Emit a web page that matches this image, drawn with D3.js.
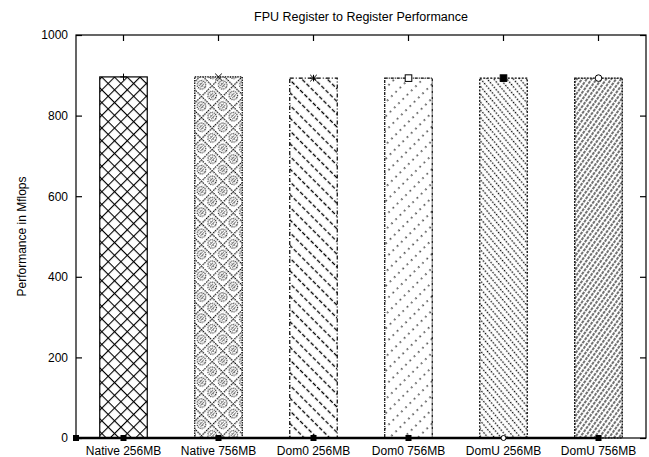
<!DOCTYPE html>
<html>
<head>
<meta charset="utf-8">
<script src="https://cdn.jsdelivr.net/npm/d3@7.9.0/dist/d3.min.js"></script>
<style>
  body { margin: 0; background: #fff; }
  text { font-family: "Liberation Sans", Arial, sans-serif; fill: #000; }
</style>
</head>
<body>
<svg id="chart" width="649" height="457"></svg>
<script>
// Data
const categories = ['Native 256MB', 'Native 756MB', 'Dom0 256MB', 'Dom0 756MB', 'DomU 256MB', 'DomU 756MB'];
const values     = [896, 896, 893, 893, 893, 893];
const yTicks     = [0, 200, 400, 600, 800, 1000];
const markers    = ['plus', 'cross', 'star', 'square', 'fsquare', 'circle'];

const W = 649, H = 457;
const margin = { top: 35, right: 3, bottom: 19, left: 76 };

const svg = d3.select('#chart');
const defs = svg.append('defs');

// Hatch patterns, one per bar
function linePattern(id, size, angle, sw, dash) {
  const p = defs.append('pattern')
    .attr('id', id)
    .attr('patternUnits', 'userSpaceOnUse')
    .attr('width', size).attr('height', 12)
    .attr('patternTransform', `rotate(${angle})`);
  p.append('line')
    .attr('x1', size / 2).attr('x2', size / 2)
    .attr('y1', 0).attr('y2', 12)
    .attr('stroke', '#000').attr('stroke-width', sw)
    .attr('stroke-dasharray', dash);
}

// 1: solid cross-hatch
const p1 = defs.append('pattern').attr('id', 'pat0')
  .attr('patternUnits', 'userSpaceOnUse').attr('width', 9).attr('height', 9)
  .attr('patternTransform', 'rotate(45)');
p1.append('line').attr('x1', 0).attr('x2', 9).attr('y1', 0).attr('y2', 0)
  .attr('stroke', '#000').attr('stroke-width', 2.2);
p1.append('line').attr('x1', 0).attr('x2', 0).attr('y1', 0).attr('y2', 9)
  .attr('stroke', '#000').attr('stroke-width', 2.2);

// 2: dotted cross-hatch with small dotted rings
const p2 = defs.append('pattern').attr('id', 'pat1')
  .attr('patternUnits', 'userSpaceOnUse').attr('width', 15).attr('height', 15)
  .attr('patternTransform', 'rotate(45)');
p2.append('line').attr('x1', 0).attr('x2', 15).attr('y1', 0).attr('y2', 0)
  .attr('stroke', '#000').attr('stroke-width', 2.4).attr('stroke-dasharray', '1.5,1');
p2.append('line').attr('x1', 0).attr('x2', 0).attr('y1', 0).attr('y2', 15)
  .attr('stroke', '#000').attr('stroke-width', 2.4).attr('stroke-dasharray', '1.5,1');
p2.append('circle').attr('cx', 7.5).attr('cy', 7.5).attr('r', 4.2)
  .attr('fill', 'none').attr('stroke', '#000').attr('stroke-width', 1.2)
  .attr('stroke-dasharray', '1,1');
p2.append('rect').attr('x', 6).attr('y', 6).attr('width', 3).attr('height', 3)
  .attr('fill', 'none').attr('stroke', '#000').attr('stroke-width', 1)
  .attr('stroke-dasharray', '1,1');

linePattern('pat2', 9, -45, 1.3, '4,2');
linePattern('pat3', 10, 45, 1.3, '1.5,4.5');
linePattern('pat4', 5, -40, 1.3, '1.5,1.5');
linePattern('pat5', 4, 35, 1.1, '3,1');

const borderDash = [null, '1.5,1', '4,2,1,2', '3,1,1,1', '2,1.5', '2,1'];

const x = d3.scaleBand()
  .domain(categories)
  .range([margin.left, W - margin.right])
  .paddingInner(0.5)
  .paddingOuter(0.25);

const y = d3.scaleLinear()
  .domain([0, 1000])
  .range([H - margin.bottom, margin.top]);

const g = svg.append('g');

// Bars
categories.forEach((c, i) => {
  g.append('rect')
    .attr('x', x(c))
    .attr('y', y(values[i]))
    .attr('width', x.bandwidth())
    .attr('height', y(0) - y(values[i]))
    .attr('fill', `url(#pat${i})`)
    .attr('stroke', '#000')
    .attr('stroke-width', 1.2)
    .attr('stroke-dasharray', borderDash[i]);
});

// Frame
g.append('rect')
  .attr('x', margin.left).attr('y', margin.top)
  .attr('width', W - margin.right - margin.left)
  .attr('height', y(0) - margin.top)
  .attr('fill', 'none').attr('stroke', '#000').attr('stroke-width', 1.2);

// Y ticks, inward on both sides
const yAxisL = d3.axisLeft(y).tickValues(yTicks).tickFormat(d3.format('d'))
  .tickSizeInner(-6).tickSizeOuter(0).tickPadding(8);
const gl = svg.append('g').attr('transform', `translate(${margin.left},0)`).call(yAxisL);
gl.select('.domain').remove();
gl.selectAll('text').style('font-size', '12px');

const yAxisR = d3.axisRight(y).tickValues(yTicks).tickSizeInner(-6).tickSizeOuter(0).tickFormat('');
const gr = svg.append('g').attr('transform', `translate(${W - margin.right},0)`).call(yAxisR);
gr.select('.domain').remove();

// X ticks on top, labels below
const xTop = d3.axisTop(x).tickSizeInner(-6).tickSizeOuter(0).tickFormat('');
const gt = svg.append('g').attr('transform', `translate(0,${margin.top})`).call(xTop);
gt.select('.domain').remove();

const xBot = d3.axisBottom(x).tickSize(0).tickPadding(8);
const gb = svg.append('g').attr('transform', `translate(0,${y(0)})`).call(xBot);
gb.select('.domain').remove();
gb.selectAll('text').style('font-size', '12px');

svg.selectAll('.tick line').attr('stroke', '#000').attr('stroke-width', 1.2);

// Zero line with points along the bottom
const zeroXs = [margin.left].concat(categories.map(c => x(c) + x.bandwidth() / 2));
svg.append('line')
  .attr('x1', zeroXs[0]).attr('x2', zeroXs[zeroXs.length - 1])
  .attr('y1', y(0)).attr('y2', y(0))
  .attr('stroke', '#000').attr('stroke-width', 2.4);
zeroXs.forEach((px, i) => {
  if (i === 5) {
    svg.append('circle').attr('cx', px).attr('cy', y(0)).attr('r', 2.5)
      .attr('fill', '#fff').attr('stroke', '#000').attr('stroke-width', 1);
  } else {
    svg.append('rect').attr('x', px - 3).attr('y', y(0) - 3)
      .attr('width', 6).attr('height', 6).attr('fill', '#000');
  }
});

// Point markers at bar tops
function marker(type, cx, cy) {
  const s = 3.3;
  const m = svg.append('g').attr('stroke', '#000').attr('stroke-width', 1).attr('fill', 'none');
  const plus  = () => m.append('path').attr('d', `M${cx - s},${cy}H${cx + s}M${cx},${cy - s}V${cy + s}`);
  const cross = () => m.append('path').attr('d', `M${cx - s},${cy - s}L${cx + s},${cy + s}M${cx - s},${cy + s}L${cx + s},${cy - s}`);
  if (type === 'plus') plus();
  if (type === 'cross') cross();
  if (type === 'star') { plus(); cross(); }
  if (type === 'square') m.append('rect').attr('x', cx - s).attr('y', cy - s).attr('width', 2 * s).attr('height', 2 * s).attr('fill', '#fff');
  if (type === 'fsquare') m.append('rect').attr('x', cx - s).attr('y', cy - s).attr('width', 2 * s).attr('height', 2 * s).attr('fill', '#000');
  if (type === 'circle') m.append('circle').attr('cx', cx).attr('cy', cy).attr('r', s).attr('fill', '#fff');
}
categories.forEach((c, i) => marker(markers[i], x(c) + x.bandwidth() / 2, y(values[i])));

// Title and y label
svg.append('text')
  .attr('x', 361).attr('y', 21)
  .attr('text-anchor', 'middle')
  .style('font-size', '12.5px')
  .text('FPU Register to Register Performance');

svg.append('text')
  .attr('transform', `translate(26,${(margin.top + y(0)) / 2}) rotate(-90)`)
  .attr('text-anchor', 'middle')
  .style('font-size', '12px')
  .text('Performance in Mflops');
</script>
</body>
</html>
